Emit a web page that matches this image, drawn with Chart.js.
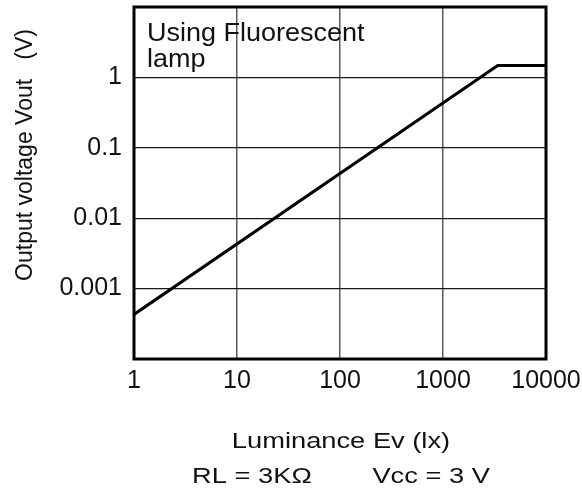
<!DOCTYPE html>
<html><head><meta charset="utf-8">
<script src="https://cdn.jsdelivr.net/npm/chart.js@4/dist/chart.umd.min.js"></script>
<style>html,body{margin:0;padding:0;background:#fff}#wrap{width:582px;height:491px}</style>
</head><body><div id="wrap"><canvas id="c" width="582" height="491"></canvas></div>
<script>
// Data (log-log)
const luminance = [1, 3400, 10000];
const vout = [0.00043, 1.48, 1.48];
const xTickValues = [1, 10, 100, 1000, 10000];
const xTickLabels = ['1', '10', '100', '1000', '10000'];
const yTickValues = [0.001, 0.01, 0.1, 1];
const yTickLabels = ['0.001', '0.01', '0.1', '1'];
const yTitle = 'Output voltage Vout   (V)';
const xTitle = ['Luminance Ev (lx)', 'RL = 3K\u03A9        Vcc = 3 V'];
const note = ['Using Fluorescent', 'lamp'];

const FONT = '"Liberation Sans", Arial, sans-serif';

function stretchedText(ctx, text, cx, y, sx, align) {
  ctx.save();
  ctx.translate(cx, y);
  ctx.scale(sx, 1);
  ctx.textAlign = align;
  ctx.fillText(text, 0, 0);
  ctx.restore();
}

const framePlugin = {
  id: 'frame',
  afterDatasetsDraw(chart) {
    const {ctx, chartArea: a} = chart;
    ctx.save();
    ctx.strokeStyle = '#000';
    ctx.lineWidth = 3;
    ctx.strokeRect(a.left, a.top, a.right - a.left, a.bottom - a.top);
    ctx.restore();
  },
  afterDraw(chart) {
    const {ctx, chartArea: a} = chart;
    // y axis title
    ctx.save();
    ctx.fillStyle = '#111';
    ctx.translate(26, 155);
    ctx.rotate(-Math.PI / 2);
    ctx.textAlign = 'center';
    ctx.textBaseline = 'middle';
    ctx.font = '23px ' + FONT;
    ctx.fillText(yTitle, 0, 0);
    ctx.restore();
    // note inside plot
    ctx.save();
    ctx.fillStyle = '#111';
    ctx.font = '25px ' + FONT;
    ctx.textBaseline = 'alphabetic';
    stretchedText(ctx, note[0], a.left + 13, 41, 1.08, 'left');
    stretchedText(ctx, note[1], a.left + 13, 67, 1.08, 'left');
    ctx.restore();
    // x axis title (two lines)
    ctx.save();
    ctx.fillStyle = '#111';
    ctx.font = '22px ' + FONT;
    ctx.textBaseline = 'alphabetic';
    const cx = (a.left + a.right) / 2;
    stretchedText(ctx, xTitle[0], cx + 1, 448, 1.24, 'center');
    stretchedText(ctx, xTitle[1], cx + 1, 483, 1.24, 'center');
    ctx.restore();
  }
};

new Chart(document.getElementById('c'), {
  type: 'line',
  data: {
    datasets: [{
      data: luminance.map((x, i) => ({x: x, y: vout[i]})),
      borderColor: '#000',
      borderWidth: 3,
      pointRadius: 0,
      tension: 0,
      fill: false
    }]
  },
  options: {
    responsive: false,
    animation: false,
    devicePixelRatio: 1,
    layout: {padding: {top: 7, right: 36, left: 0, bottom: 0}},
    plugins: {legend: {display: false}, tooltip: {enabled: false}},
    scales: {
      x: {
        type: 'logarithmic',
        min: 1, max: 10000,
        afterBuildTicks: s => { s.ticks = xTickValues.map(v => ({value: v})); },
        afterFit: s => { s.height = 132; s.paddingLeft = 0; s.paddingRight = 0; },
        grid: {color: '#5a5a5a', lineWidth: 1.5, drawTicks: false},
        border: {display: false},
        ticks: {
          autoSkip: false, maxRotation: 0, padding: 7,
          color: '#111', font: {family: FONT, size: 25},
          callback: (v) => { const i = xTickValues.indexOf(v); return i >= 0 ? xTickLabels[i] : ''; }
        }
      },
      y: {
        type: 'logarithmic',
        min: 0.0001, max: 10,
        afterBuildTicks: s => { s.ticks = yTickValues.map(v => ({value: v})); },
        afterFit: s => { s.width = 134; s.paddingTop = 0; s.paddingBottom = 0; },
        grid: {color: '#1a1a1a', lineWidth: 1.3, drawTicks: false},
        border: {display: false},
        ticks: {
          autoSkip: false, padding: 12,
          color: '#111', font: {family: FONT, size: 25},
          callback: (v) => { const i = yTickValues.indexOf(v); return i >= 0 ? yTickLabels[i] : ''; }
        }
      }
    }
  },
  plugins: [framePlugin]
});
</script>
</body></html>
